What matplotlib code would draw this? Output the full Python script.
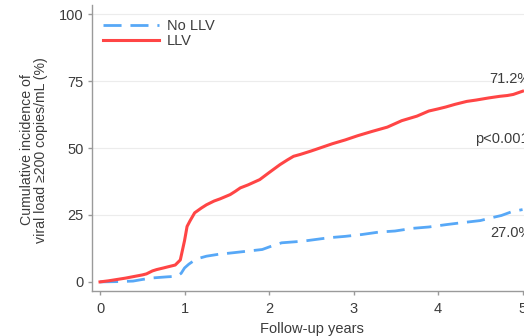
import matplotlib
matplotlib.use("Agg")
import matplotlib.pyplot as plt

plt.rcParams['font.family'] = ['Liberation Sans', 'DejaVu Sans']

# Cumulative incidence curves (follow-up years, %)
llv_years = [0.0, 0.1, 0.2, 0.3, 0.4, 0.5, 0.55, 0.62, 0.67, 0.75, 0.8, 0.89, 0.95,
             1.0, 1.03, 1.065, 1.12, 1.2, 1.26, 1.35, 1.42, 1.54, 1.60, 1.66, 1.75,
             1.89, 2.0, 2.13, 2.22, 2.29, 2.37, 2.5, 2.63, 2.75, 2.90, 3.05, 3.22,
             3.4, 3.57, 3.75, 3.89, 4.0, 4.09, 4.2, 4.34, 4.45, 4.6, 4.73, 4.82,
             4.89, 5.0]
llv_pct = [0.0, 0.4, 0.9, 1.4, 2.0, 2.6, 3.0, 4.1, 4.6, 5.2, 5.6, 6.3, 8.2,
           15.4, 20.7, 22.8, 25.8, 27.6, 28.8, 30.2, 31.0, 32.6, 33.8, 35.1, 36.2,
           38.2, 40.8, 43.8, 45.6, 46.9, 47.6, 48.9, 50.3, 51.6, 53.0, 54.6, 56.2,
           57.8, 60.2, 61.9, 63.8, 64.6, 65.3, 66.3, 67.4, 67.9, 68.7, 69.3, 69.6,
           70.0, 71.2]

nollv_years = [0.0, 0.2, 0.39, 0.5, 0.63, 0.8, 0.91, 0.96, 1.0, 1.05, 1.10, 1.18,
               1.26, 1.4, 1.58, 1.75, 1.92, 2.05, 2.15, 2.4, 2.71, 2.9, 3.10, 3.3,
               3.49, 3.7, 3.89, 4.1, 4.28, 4.5, 4.64, 4.75, 4.88, 5.0]
nollv_pct = [0.0, 0.1, 0.3, 0.9, 1.5, 1.9, 2.1, 3.2, 5.2, 6.6, 7.7, 8.9,
             9.6, 10.3, 10.9, 11.5, 12.1, 13.6, 14.6, 15.2, 16.5, 17.0, 17.7, 18.6,
             19.0, 20.0, 20.5, 21.4, 22.1, 22.9, 24.0, 24.8, 26.3, 27.0]

series_labels = ["No LLV", "LLV"]
x_ticks = [0, 1, 2, 3, 4, 5]
y_ticks = [0, 25, 50, 75, 100]

end_labels = ["71.2%", "27.0%"]
p_label = "p<0.001"

text_color = "#3c3c3c"
spine_color = "#9a9a9a"
red = "#ff4545"
blue = "#57a8f7"

fig = plt.figure(figsize=(5.24, 3.36), dpi=100)
ax = fig.add_axes([92 / 524, 45 / 336, 439 / 524, 286 / 336])

for yv in y_ticks[1:]:
    ax.axhline(yv, color="#ececec", lw=0.8, zorder=0)

ax.plot(nollv_years, nollv_pct, color=blue, lw=2.0, dashes=(6.5, 3.2),
        label=series_labels[0], zorder=3)
ax.plot(llv_years, llv_pct, color=red, lw=2.2, label=series_labels[1], zorder=4)

ax.set_xlim(-0.095, 5.1)
ax.set_ylim(-3.4, 103.4)
ax.set_xticks(x_ticks)
ax.set_yticks(y_ticks)

for side in ("top", "right"):
    ax.spines[side].set_visible(False)
for side in ("left", "bottom"):
    ax.spines[side].set_color(spine_color)
    ax.spines[side].set_linewidth(1.0)

ax.tick_params(axis="both", colors=spine_color, labelcolor=text_color,
               labelsize=10.5, length=3, width=1.0)
ax.tick_params(axis="x", pad=5)
ax.tick_params(axis="y", pad=3)

ax.set_xlabel("Follow-up years", fontsize=10.5, color=text_color, labelpad=4)
fig.text(34 / 524, 1 - 150 / 336,
         "Cumulative incidence of\nviral load \u2265200 copies/mL (%)",
         rotation=90, ha="center", va="center", fontsize=10.2,
         color=text_color, linespacing=0.98)

ax.text(4.61, 75.6, end_labels[0], fontsize=10.5, color=text_color,
        ha="left", va="center")
ax.text(4.44, 53.2, p_label, fontsize=10.5, color=text_color,
        ha="left", va="center")
ax.text(4.62, 18.4, end_labels[1], fontsize=10.5, color=text_color,
        ha="left", va="center")

leg = ax.legend(loc="upper left", bbox_to_anchor=(0.005, 0.982), frameon=False,
                fontsize=10.5, handlelength=3.85, handletextpad=0.55,
                labelspacing=0.1, borderaxespad=0.3, borderpad=0.3)
for t in leg.get_texts():
    t.set_color(text_color)

fig.savefig("out.png", dpi=100)
